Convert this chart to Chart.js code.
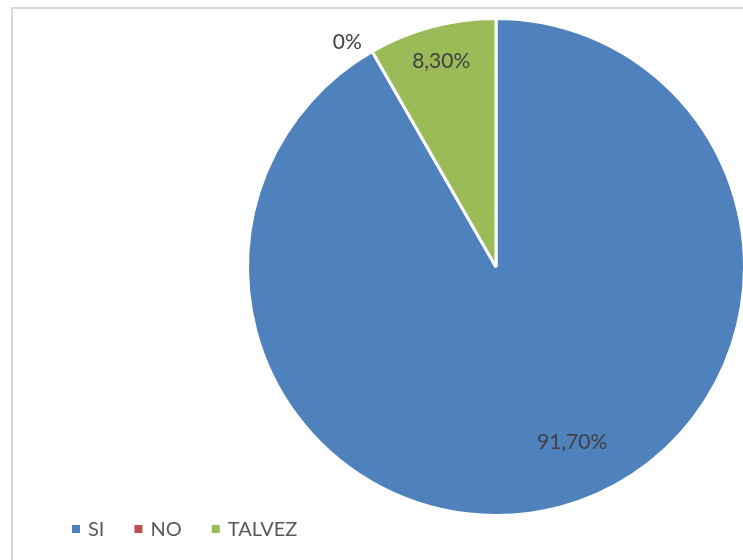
<!DOCTYPE html>
<html>
<head>
<meta charset="utf-8">
<script src="https://cdn.jsdelivr.net/npm/chart.js@4"></script>
<style>
  html, body { margin: 0; padding: 0; background: #ffffff; }
  #wrap { position: relative; width: 743px; height: 560px; overflow: hidden; }
  #frame { position: absolute; left: 11px; top: 7px; width: 800px; height: 600px;
           border-left: 2px solid #d9d9d9; border-top: 2px solid #d9d9d9; }
  #myChart { position: absolute; left: 0; top: 0; }
</style>
</head>
<body>
<div id="wrap">
  <div id="frame"></div>
  <canvas id="myChart" width="760" height="560"></canvas>
</div>
<script>
// Answers to the question, in the order Excel drew them
var categories = ["SI", "NO", "TALVEZ"];
// Share of answers, in percent
var shares = [91.7, 0, 8.3];
// Text shown on each slice
var slice_labels = ["91,70%", "0%", "8,30%"];
var slice_colors = ["#4f81bd", "#c0504d", "#9bbb59"];

// Where each label sits: fraction of the radius and a turn (degrees) off the slice middle
var label_spots = [
  { r: 0.77, turn: -8.5 },
  { r: 1.085, turn: -3.6 },
  { r: 0.855, turn: 0 }
];

// Draw the value labels on (or next to) the slices
var sliceLabels = {
  id: 'sliceLabels',
  afterDatasetsDraw: function(chart) {
    var ctx = chart.ctx;
    var arcs = chart.getDatasetMeta(0).data;
    ctx.save();
    ctx.font = '21px Lato';
    ctx.fillStyle = '#404040';
    ctx.textAlign = 'center';
    ctx.textBaseline = 'middle';
    arcs.forEach(function(arc, i) {
      var p = arc.getProps(['x', 'y', 'startAngle', 'endAngle', 'outerRadius'], true);
      var mid = (p.startAngle + p.endAngle) / 2 + label_spots[i].turn * Math.PI / 180;
      var r = p.outerRadius * label_spots[i].r;
      ctx.fillText(slice_labels[i], p.x + Math.cos(mid) * r, p.y + Math.sin(mid) * r);
    });
    ctx.restore();
  }
};

// Legend along the bottom left, like the Excel one
var bottomLegend = {
  id: 'bottomLegend',
  afterDraw: function(chart) {
    var ctx = chart.ctx;
    var x = 72, y = 529;
    ctx.save();
    ctx.font = '20px Lato';
    ctx.textBaseline = 'middle';
    ctx.textAlign = 'left';
    categories.forEach(function(name, i) {
      ctx.fillStyle = slice_colors[i];
      ctx.fillRect(x, y - 4, 8, 8);
      ctx.fillStyle = '#595959';
      ctx.fillText(name, x + 16, y + 1);
      x += 16 + ctx.measureText(name).width + 30;
    });
    ctx.restore();
  }
};

var ctx = document.getElementById("myChart");
var myChart = new Chart(ctx, {
  type: 'pie',
  data: {
    labels: categories,
    datasets: [
      {
        data: shares,
        backgroundColor: slice_colors,
        borderColor: "#ffffff",
        borderWidth: 3
      }
    ]
  },
  options: {
    responsive: false,
    animation: false,
    layout: { padding: { left: 246, right: 14, top: 17, bottom: 43 } },
    plugins: {
      legend: { display: false },
      tooltip: { enabled: false }
    }
  },
  plugins: [sliceLabels, bottomLegend]
});
</script>
</body>
</html>
